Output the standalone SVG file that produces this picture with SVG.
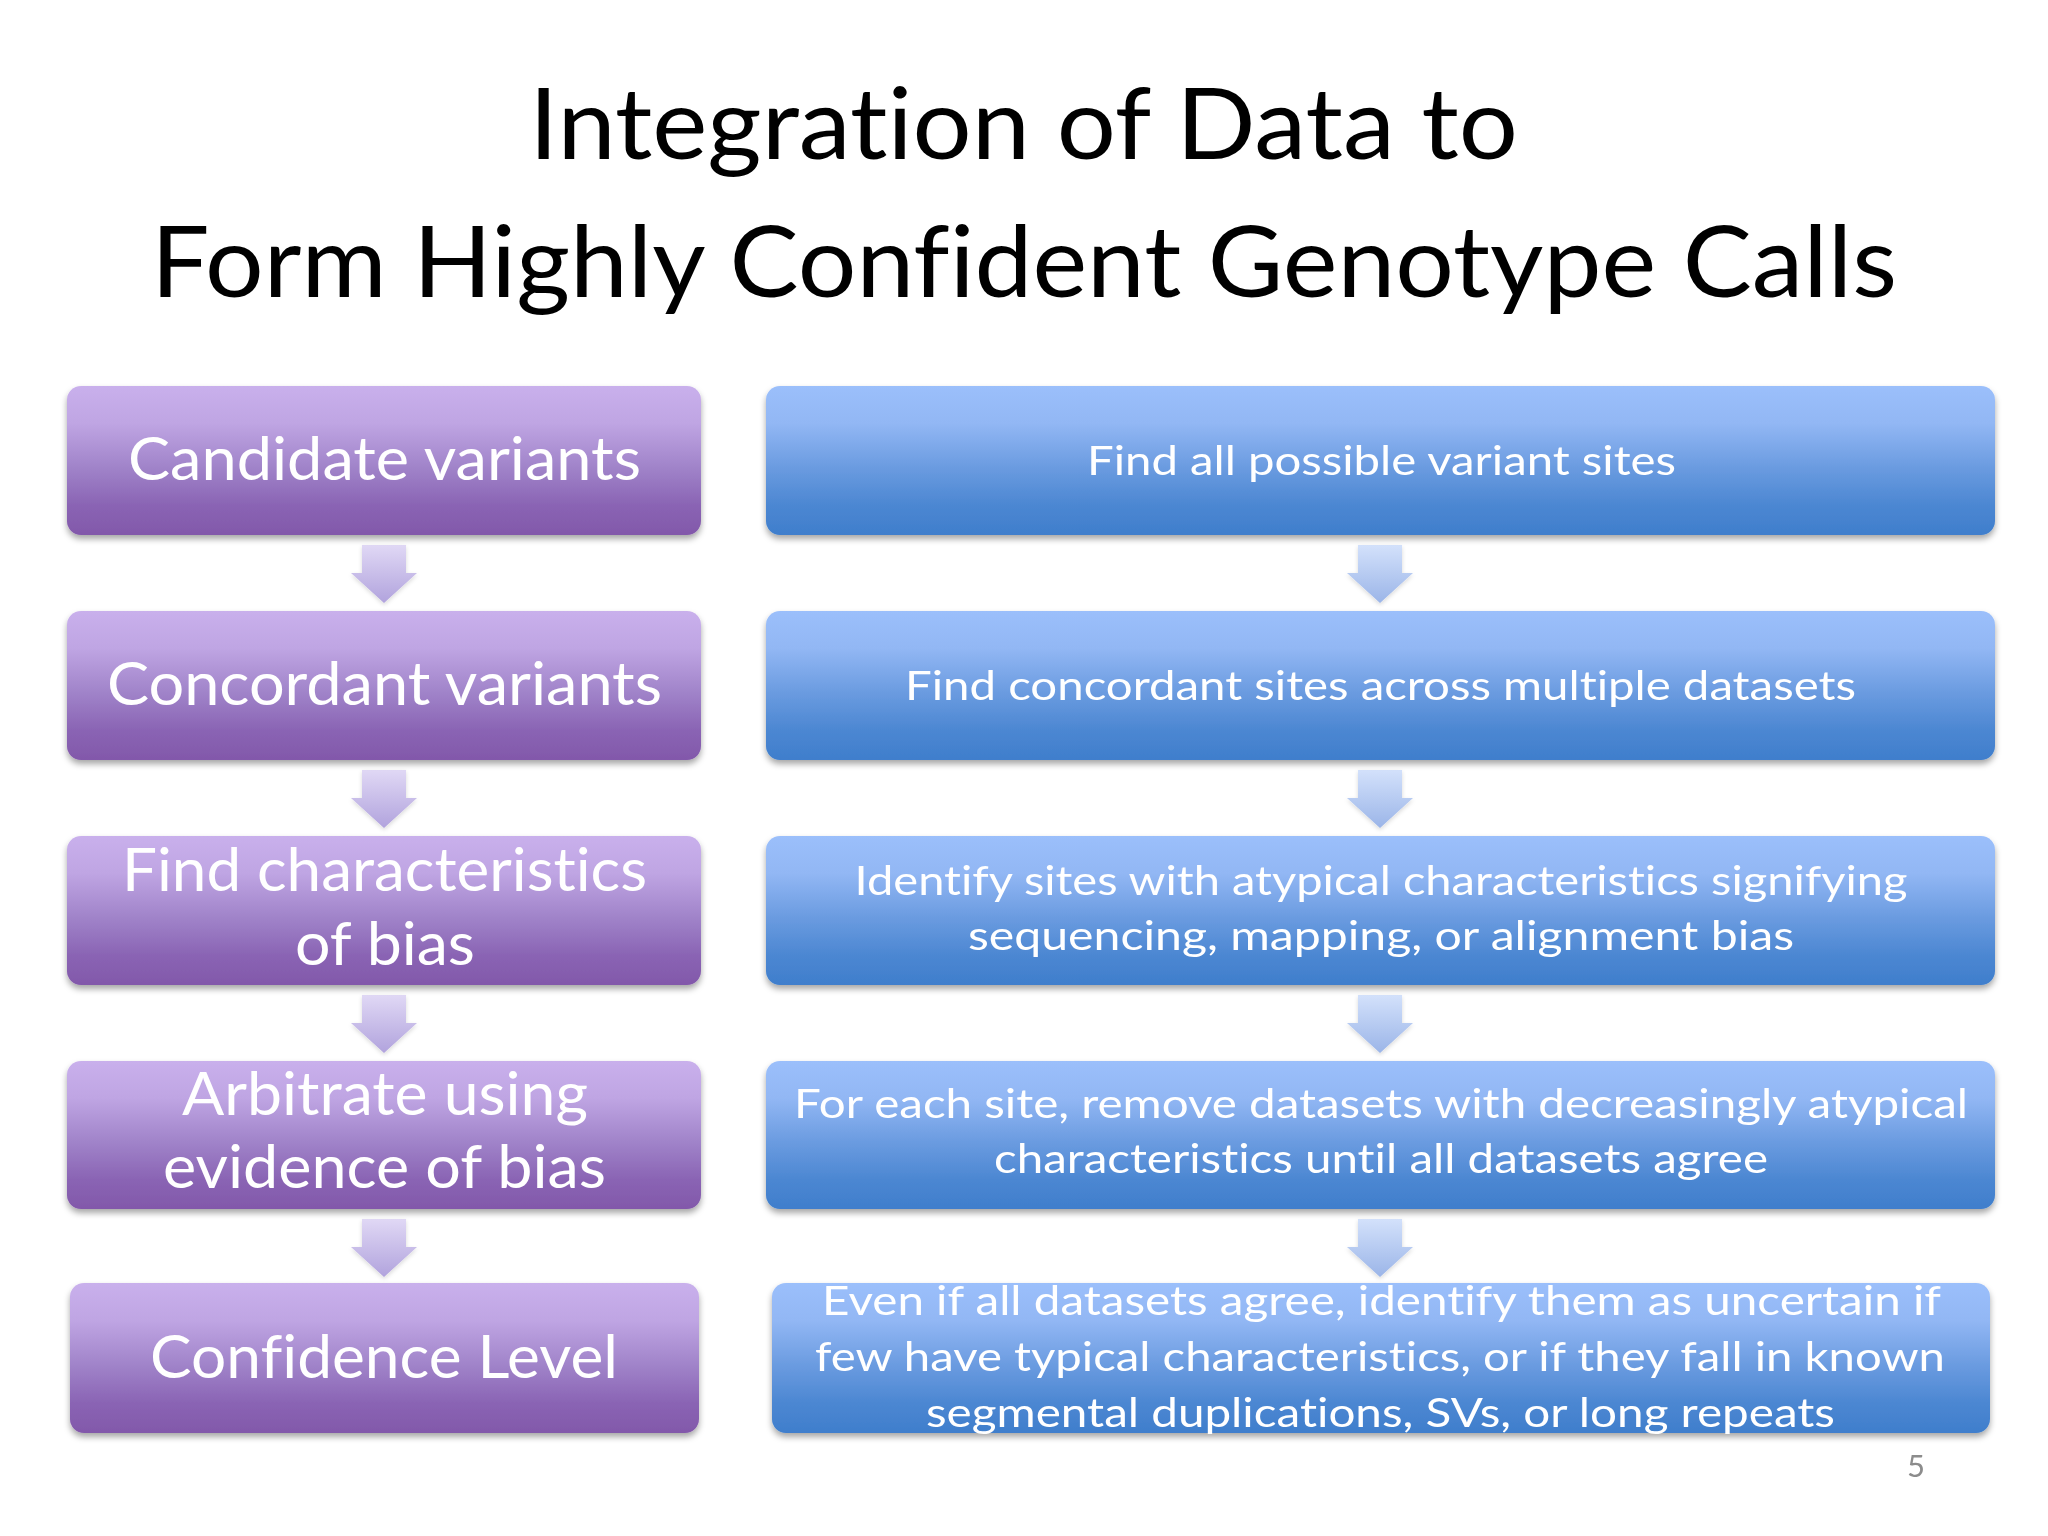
<svg xmlns="http://www.w3.org/2000/svg" xmlns:xlink="http://www.w3.org/1999/xlink" width="2048" height="1536" viewBox="0 0 2048 1536">
<style>
text{font-variant-ligatures:none;font-feature-settings:"liga" 0,"clig" 0}
.title{font-family:Lato,"Open Sans","Liberation Sans",sans-serif;font-size:99px;fill:#000;text-anchor:middle}
.lt{font-family:Lato,"Open Sans","Liberation Sans",sans-serif;font-size:60px;fill:#fff;text-anchor:middle}
.rt{font-family:Lato,"Open Sans","Liberation Sans",sans-serif;font-size:41px;fill:#fff;text-anchor:middle}
.pbox{fill:url(#gp);filter:url(#sh)}
.bbox{fill:url(#gb);filter:url(#sh)}
.pnum{font-family:Lato,"Open Sans","Liberation Sans",sans-serif;font-size:31px;fill:#8c8c8c;text-anchor:middle}
</style>
<defs>
<linearGradient id="gp" x1="0" y1="0" x2="0" y2="1">
<stop offset="0" stop-color="#c9b0ec"/>
<stop offset="0.25" stop-color="#bfa5e3"/>
<stop offset="0.55" stop-color="#a083c9"/>
<stop offset="0.8" stop-color="#8a64b4"/>
<stop offset="1" stop-color="#8258aa"/>
</linearGradient>
<linearGradient id="gb" x1="0" y1="0" x2="0" y2="1">
<stop offset="0" stop-color="#9bbffb"/>
<stop offset="0.25" stop-color="#92b7f4"/>
<stop offset="0.55" stop-color="#6a9be0"/>
<stop offset="0.8" stop-color="#4c87d2"/>
<stop offset="1" stop-color="#3f7ecc"/>
</linearGradient>
<linearGradient id="ap" x1="0" y1="0" x2="0" y2="1">
<stop offset="0" stop-color="#e0d8f5"/>
<stop offset="1" stop-color="#b1a3dd"/>
</linearGradient>
<linearGradient id="ab" x1="0" y1="0" x2="0" y2="1">
<stop offset="0" stop-color="#d3e1fb"/>
<stop offset="1" stop-color="#9bb5e8"/>
</linearGradient>
<filter id="sh" x="-5%" y="-10%" width="110%" height="130%">
<feDropShadow dx="0" dy="4" stdDeviation="3" flood-color="#000" flood-opacity="0.35"/>
</filter>
<filter id="ash" x="-30%" y="-30%" width="160%" height="160%">
<feDropShadow dx="0" dy="2" stdDeviation="2" flood-color="#000" flood-opacity="0.15"/>
</filter>
<path id="arr" d="M-22,0 H22 V28 H33 L0,58 L-33,28 H-22 Z"/>
</defs>
<rect width="2048" height="1536" fill="#fff"/>
<g id="title">
<text class="title" x="1023.5" y="159" textLength="989" lengthAdjust="spacingAndGlyphs">Integration of Data to</text>
<text class="title" x="1024" y="297" textLength="1746" lengthAdjust="spacingAndGlyphs">Form Highly Confident Genotype Calls</text>
</g>
<g id="connectors" filter="url(#ash)">
<use xlink:href="#arr" x="384" y="545" fill="url(#ap)"/>
<use xlink:href="#arr" x="384" y="770" fill="url(#ap)"/>
<use xlink:href="#arr" x="384" y="995" fill="url(#ap)"/>
<use xlink:href="#arr" x="384" y="1219" fill="url(#ap)"/>
<use xlink:href="#arr" x="1380" y="545" fill="url(#ab)"/>
<use xlink:href="#arr" x="1380" y="770" fill="url(#ab)"/>
<use xlink:href="#arr" x="1380" y="995" fill="url(#ab)"/>
<use xlink:href="#arr" x="1380" y="1219" fill="url(#ab)"/>
</g>
<g id="node-candidate">
<rect class="pbox" x="67" y="386" width="634" height="149" rx="14"/>
<text class="lt" x="384.5" y="480" textLength="513" lengthAdjust="spacingAndGlyphs">Candidate variants</text>
</g>
<g id="node-concordant">
<rect class="pbox" x="67" y="611" width="634" height="149" rx="14"/>
<text class="lt" x="384.5" y="705" textLength="555" lengthAdjust="spacingAndGlyphs">Concordant variants</text>
</g>
<g id="node-findchar">
<rect class="pbox" x="67" y="836" width="634" height="149" rx="14"/>
<text class="lt" x="384.5" y="891" textLength="525" lengthAdjust="spacingAndGlyphs">Find characteristics</text>
<text class="lt" x="385" y="965" textLength="180" lengthAdjust="spacingAndGlyphs">of bias</text>
</g>
<g id="node-arbitrate">
<rect class="pbox" x="67" y="1061" width="634" height="148" rx="14"/>
<text class="lt" x="385" y="1115" textLength="406" lengthAdjust="spacingAndGlyphs">Arbitrate using</text>
<text class="lt" x="384.5" y="1188" textLength="443" lengthAdjust="spacingAndGlyphs">evidence of bias</text>
</g>
<g id="node-confidence">
<rect class="pbox" x="70" y="1283" width="629" height="150" rx="14"/>
<text class="lt" x="384" y="1378" textLength="468" lengthAdjust="spacingAndGlyphs">Confidence Level</text>
</g>
<g id="node-findall">
<rect class="bbox" x="766" y="386" width="1229" height="149" rx="14"/>
<text class="rt" x="1381.5" y="475" textLength="589" lengthAdjust="spacingAndGlyphs">Find all possible variant sites</text>
</g>
<g id="node-findconc">
<rect class="bbox" x="766" y="611" width="1229" height="149" rx="14"/>
<text class="rt" x="1380.5" y="700" textLength="951" lengthAdjust="spacingAndGlyphs">Find concordant sites across multiple datasets</text>
</g>
<g id="node-identify">
<rect class="bbox" x="766" y="836" width="1229" height="149" rx="14"/>
<text class="rt" x="1381" y="895" textLength="1053" lengthAdjust="spacingAndGlyphs">Identify sites with atypical characteristics signifying</text>
<text class="rt" x="1381" y="950" textLength="826" lengthAdjust="spacingAndGlyphs">sequencing, mapping, or alignment bias</text>
</g>
<g id="node-remove">
<rect class="bbox" x="766" y="1061" width="1229" height="148" rx="14"/>
<text class="rt" x="1381" y="1118" textLength="1174" lengthAdjust="spacingAndGlyphs">For each site, remove datasets with decreasingly atypical</text>
<text class="rt" x="1381" y="1173" textLength="774" lengthAdjust="spacingAndGlyphs">characteristics until all datasets agree</text>
</g>
<g id="node-uncertain">
<rect class="bbox" x="772" y="1283" width="1218" height="150" rx="14"/>
<text class="rt" x="1381.5" y="1315" textLength="1119" lengthAdjust="spacingAndGlyphs">Even if all datasets agree, identify them as uncertain if</text>
<text class="rt" x="1380" y="1371" textLength="1130" lengthAdjust="spacingAndGlyphs">few have typical characteristics, or if they fall in known</text>
<text class="rt" x="1380.5" y="1427" textLength="909" lengthAdjust="spacingAndGlyphs">segmental duplications, SVs, or long repeats</text>
</g>
<text class="pnum" x="1916" y="1477">5</text>
</svg>
